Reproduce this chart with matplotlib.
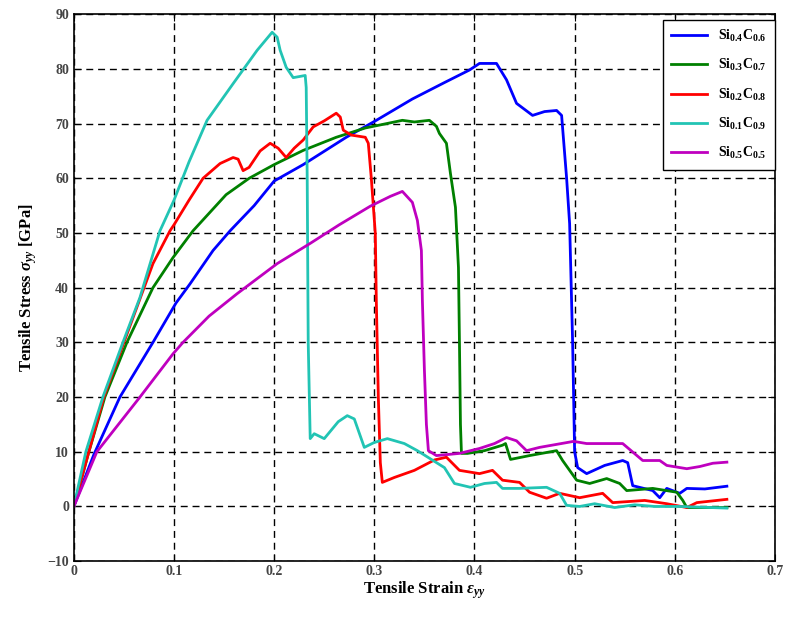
import matplotlib
matplotlib.use('Agg')
import matplotlib.pyplot as plt

# strain / stress pairs
si04_c06 = [(0, 0), (0.02, 9.5), (0.046, 20), (0.079, 30), (0.102, 37.2), (0.116, 40.7),
            (0.139, 46.8), (0.156, 50.4), (0.18, 55), (0.2, 59.5), (0.229, 62.5), (0.272, 67.5),
            (0.302, 70.6), (0.338, 74.5), (0.37, 77.5), (0.395, 79.8), (0.405, 81), (0.422, 81),
            (0.432, 78), (0.442, 73.7), (0.458, 71.5), (0.47, 72.2), (0.482, 72.4), (0.487, 71.5),
            (0.492, 60), (0.495, 51.7), (0.498, 30), (0.5, 10), (0.503, 7.1), (0.512, 6),
            (0.53, 7.5), (0.548, 8.4), (0.553, 8), (0.558, 3.8), (0.578, 2.9), (0.585, 1.6),
            (0.592, 3.3), (0.605, 2.4), (0.612, 3.3), (0.63, 3.2), (0.652, 3.7)]

si03_c07 = [(0, 0), (0.015, 10), (0.031, 20), (0.053, 30), (0.079, 40), (0.099, 45.5),
            (0.119, 50.4), (0.152, 57), (0.175, 60), (0.2, 62.5), (0.229, 65.1), (0.262, 67.5),
            (0.291, 69.2), (0.307, 69.8), (0.328, 70.6), (0.34, 70.3), (0.355, 70.6), (0.362, 69.5),
            (0.365, 68.2), (0.372, 66.4), (0.376, 60.9), (0.381, 54.7), (0.384, 43.7), (0.385, 30),
            (0.386, 15), (0.387, 9.7), (0.393, 9.7), (0.41, 10.2), (0.428, 11.2), (0.431, 11.5),
            (0.436, 8.6), (0.455, 9.3), (0.482, 10.2), (0.488, 8.4), (0.502, 4.8), (0.515, 4.2),
            (0.532, 5.1), (0.545, 4.2), (0.552, 2.9), (0.578, 3.3), (0.602, 2.6), (0.608, 1.1),
            (0.612, -0.2), (0.652, -0.2)]

si02_c08 = [(0, 0), (0.015, 10), (0.03, 20), (0.05, 30), (0.079, 44.4), (0.096, 50.4),
            (0.1, 51.5), (0.115, 56), (0.129, 60), (0.146, 62.7), (0.159, 63.8), (0.164, 63.5),
            (0.169, 61.4), (0.175, 62), (0.186, 65), (0.196, 66.4), (0.204, 65.5), (0.212, 63.8),
            (0.22, 65.5), (0.229, 67), (0.239, 69.4), (0.25, 70.5), (0.262, 71.9), (0.266, 71.2),
            (0.269, 68.8), (0.277, 67.9), (0.291, 67.5), (0.294, 66.4), (0.297, 60), (0.301, 49.9),
            (0.302, 37.6), (0.304, 20), (0.306, 8), (0.308, 4.4), (0.32, 5.3), (0.34, 6.6),
            (0.36, 8.5), (0.372, 9), (0.385, 6.6), (0.405, 6), (0.418, 6.6), (0.428, 4.8),
            (0.445, 4.4), (0.455, 2.6), (0.472, 1.5), (0.485, 2.4), (0.505, 1.6), (0.528, 2.4),
            (0.538, 0.7), (0.57, 1.1), (0.592, 0.5), (0.612, -0.2), (0.622, 0.7), (0.652, 1.3)]

si01_c09 = [(0, 0), (0.012, 10), (0.029, 20), (0.049, 30), (0.066, 38.2), (0.086, 50.4),
            (0.1, 56), (0.115, 63), (0.133, 70.6), (0.159, 77.3), (0.183, 83.4), (0.198, 86.7),
            (0.203, 85.8), (0.206, 83.4), (0.212, 80.3), (0.219, 78.4), (0.231, 78.8), (0.232, 76.6),
            (0.233, 60), (0.234, 30), (0.236, 12.4), (0.24, 13.3), (0.25, 12.4), (0.264, 15.5),
            (0.273, 16.6), (0.28, 16), (0.29, 10.8), (0.3, 11.7), (0.313, 12.4), (0.33, 11.5),
            (0.343, 10.2), (0.37, 7.1), (0.38, 4.2), (0.396, 3.5), (0.41, 4.2), (0.422, 4.4),
            (0.428, 3.3), (0.445, 3.3), (0.472, 3.5), (0.485, 2.4), (0.492, 0.2), (0.505, 0),
            (0.52, 0.5), (0.54, -0.2), (0.56, 0.3), (0.58, 0), (0.605, 0), (0.652, -0.3)]

si05_c05 = [(0, 0), (0.023, 10), (0.066, 20), (0.099, 27.9), (0.109, 30), (0.135, 34.8),
            (0.163, 38.9), (0.203, 44.4), (0.236, 48.1), (0.265, 51.5), (0.296, 54.9), (0.316, 56.7),
            (0.328, 57.6), (0.338, 55.6), (0.343, 52.3), (0.347, 46.8), (0.348, 37.6), (0.35, 25),
            (0.352, 15), (0.354, 10.2), (0.362, 9.3), (0.385, 9.7), (0.405, 10.6), (0.42, 11.5),
            (0.432, 12.6), (0.442, 12), (0.452, 10.2), (0.465, 10.8), (0.499, 11.9), (0.512, 11.5),
            (0.548, 11.5), (0.568, 8.4), (0.585, 8.4), (0.592, 7.5), (0.612, 6.9), (0.625, 7.3),
            (0.638, 7.9), (0.652, 8.1)]

series = [
    (si04_c06, '#0000ff', r'Si$_{0.4}$C$_{0.6}$'),
    (si03_c07, '#008000', r'Si$_{0.3}$C$_{0.7}$'),
    (si02_c08, '#ff0000', r'Si$_{0.2}$C$_{0.8}$'),
    (si01_c09, '#22c4b4', r'Si$_{0.1}$C$_{0.9}$'),
    (si05_c05, '#bf00bf', r'Si$_{0.5}$C$_{0.5}$'),
]

x_ticks = [0, 0.1, 0.2, 0.3, 0.4, 0.5, 0.6, 0.7]
x_tick_labels = ['0', '0.1', '0.2', '0.3', '0.4', '0.5', '0.6', '0.7']
y_ticks = list(range(-10, 91, 10))

plt.rcParams['font.family'] = ['Liberation Serif', 'DejaVu Serif']
plt.rcParams['font.weight'] = 'bold'
plt.rcParams['mathtext.fontset'] = 'custom'
plt.rcParams['mathtext.rm'] = 'Liberation Serif:bold'
plt.rcParams['mathtext.it'] = 'Liberation Serif:italic:bold'
plt.rcParams['mathtext.bf'] = 'Liberation Serif:bold'

fig = plt.figure(figsize=(7.94, 6.18), dpi=100)
ax = fig.add_axes([0.093, 0.092, 0.883, 0.885])

for pts, color, label in series:
    xs = [p[0] for p in pts]
    ys = [p[1] for p in pts]
    ax.plot(xs, ys, color=color, linewidth=2.0, label=label)

ax.set_xlim(0, 0.7)
ax.set_ylim(-10, 90)
ax.set_xticks(x_ticks)
ax.set_xticklabels(x_tick_labels)
ax.set_yticks(y_ticks)
ax.tick_params(direction='in', top=True, right=True, labelsize=10, colors='black',
               labelcolor='#444444', length=5)
ax.tick_params(axis='x', pad=3)
for lab in ax.get_xticklabels() + ax.get_yticklabels():
    lab.set_fontweight('bold')

ax.grid(True, color='black', linestyle=(0, (5, 3.5)), linewidth=1.0)
for sp in ax.spines.values():
    sp.set_linewidth(1.2)

ax.set_xlabel(r'Tensile Strain $\varepsilon_{yy}$', fontsize=12, fontweight='bold', labelpad=1)
ax.set_ylabel(r'Tensile Stress $\sigma_{yy}$ [GPa]', fontsize=12, fontweight='bold', labelpad=6)

leg = ax.legend(loc='upper right', bbox_to_anchor=(1.0, 0.99), borderaxespad=0.0,
                fontsize=10, handlelength=2.6, labelspacing=0.95, fancybox=False,
                framealpha=1, edgecolor='black', borderpad=0.6)
leg.get_frame().set_linewidth(1.0)

fig.savefig('out.png', dpi=100)
